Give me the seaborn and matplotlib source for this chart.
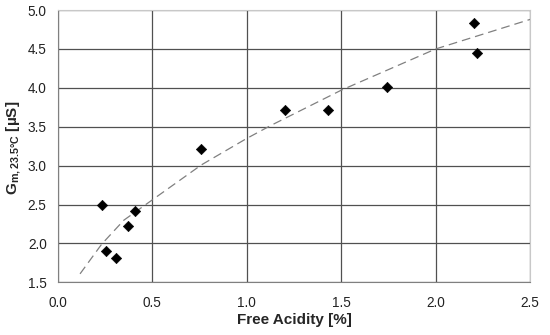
import numpy as np
import pandas as pd
import seaborn as sns
import matplotlib.pyplot as plt

# measured points
acidity = [0.235, 0.253, 0.306, 0.374, 0.409, 0.76, 1.20, 1.43, 1.74, 2.20, 2.22]
conductance = [2.50, 1.90, 1.81, 2.22, 2.42, 3.22, 3.71, 3.71, 4.01, 4.83, 4.45]

# trend line
trend_x = [0.118, 0.232, 0.35, 0.5, 0.76, 1.0, 1.13, 1.5, 2.0, 2.5]
trend_y = [1.61, 1.99, 2.30, 2.56, 3.01, 3.35, 3.52, 3.97, 4.50, 4.88]

sns.set_style('white')
plt.rcParams['font.family'] = ['Liberation Sans', 'DejaVu Sans']
plt.rcParams['mathtext.fontset'] = 'custom'
plt.rcParams['mathtext.rm'] = 'Liberation Sans:bold'

fig, ax = plt.subplots(figsize=(5.5, 3.35), dpi=100)
fig.subplots_adjust(left=0.105, right=0.964, top=0.970, bottom=0.157)

pts = pd.DataFrame({'acidity': acidity, 'g': conductance})
trend = pd.DataFrame({'x': trend_x, 'y': trend_y})

sns.lineplot(data=trend, x='x', y='y', ax=ax, color='#808080', lw=0.9,
             dashes=False, sort=False, zorder=3)
ax.lines[-1].set_dashes([7, 4])
sns.scatterplot(data=pts, x='acidity', y='g', ax=ax, marker='D', s=28,
                color='black', edgecolor='black', zorder=4)

ax.set_xlim(0, 2.5)
ax.set_ylim(1.5, 5.0)
ax.set_xticks(np.arange(0, 2.51, 0.5))
ax.set_yticks(np.arange(1.5, 5.01, 0.5))
ax.set_xticklabels([f'{v:.1f}' for v in np.arange(0, 2.51, 0.5)])
ax.set_yticklabels([f'{v:.1f}' for v in np.arange(1.5, 5.01, 0.5)])
ax.grid(True, color='#505050', lw=0.9)
ax.set_axisbelow(True)

for side in ['left', 'bottom']:
    ax.spines[side].set_color('#808080')
for side in ['top', 'right']:
    ax.spines[side].set_color('#c8c8c8')
ax.tick_params(axis='both', which='major', direction='out', length=4,
               color='#808080', labelsize=9.8, labelcolor='#222222')
ax.tick_params(axis='y', pad=4)
ax.tick_params(axis='x', pad=6)

ax.set_xlabel('Free Acidity [%]', fontsize=11, fontweight='bold', labelpad=2)
ax.set_ylabel(r'G$_{\mathrm{m,23.5°C}}$ [µS]', fontsize=11, fontweight='bold')
ax.yaxis.set_label_coords(-0.074, 0.493)

fig.savefig('out.png', dpi=100)
